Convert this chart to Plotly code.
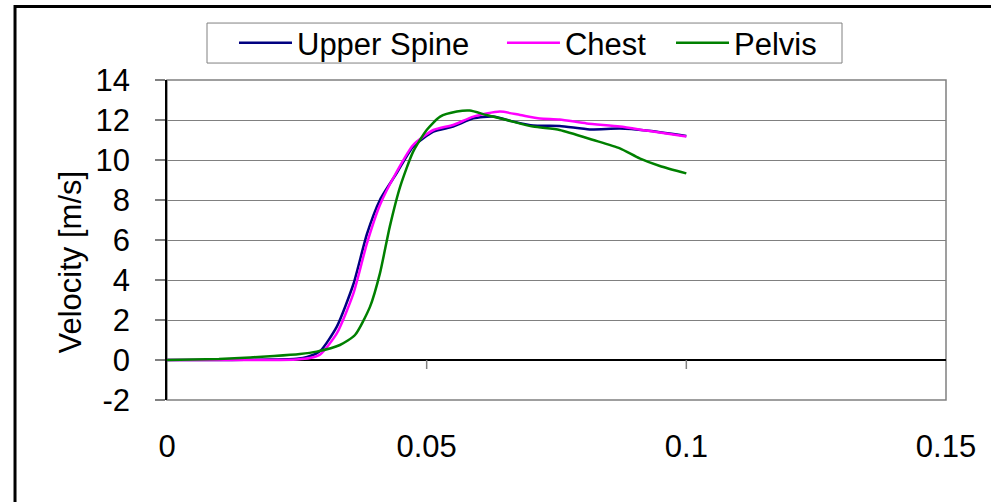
import plotly.graph_objects as go

# ---- data ----
t_spine = [0.0, 0.005, 0.01, 0.015, 0.02, 0.025, 0.027, 0.0295, 0.0327, 0.0359, 0.0385, 0.041,
           0.0442, 0.0474, 0.0513, 0.0551, 0.059, 0.0628, 0.0667, 0.0705, 0.0756, 0.0814,
           0.0872, 0.0923, 0.1]
v_spine = [0.0, 0.0, 0.0, 0.01, 0.02, 0.06, 0.15, 0.45, 1.67, 3.8, 6.3, 8.0,
           9.33, 10.67, 11.42, 11.67, 12.08, 12.17, 11.92, 11.72, 11.7, 11.53,
           11.57, 11.47, 11.2]

t_chest = [0.0, 0.005, 0.01, 0.015, 0.02, 0.025, 0.0275, 0.0295, 0.0327, 0.0359, 0.0385, 0.041,
           0.0442, 0.0474, 0.0513, 0.0551, 0.059, 0.0641, 0.068, 0.0718, 0.0756, 0.0808,
           0.0872, 0.0923, 0.1]
v_chest = [0.0, 0.0, 0.0, 0.0, 0.0, 0.03, 0.1, 0.28, 1.33, 3.33, 5.83, 7.75,
           9.4, 10.75, 11.5, 11.75, 12.17, 12.42, 12.25, 12.08, 12.03, 11.83,
           11.67, 11.47, 11.17]

t_pelvis = [0.0, 0.005, 0.01, 0.016, 0.0206, 0.0256, 0.0288, 0.0333, 0.0362, 0.0391, 0.041,
            0.0429, 0.0449, 0.0474, 0.05, 0.0526, 0.0558, 0.0583, 0.0615, 0.0654, 0.0705,
            0.0756, 0.0821, 0.0872, 0.091, 0.0949, 0.1]
v_pelvis = [0.0, 0.02, 0.05, 0.13, 0.2, 0.3, 0.42, 0.75, 1.25, 2.67, 4.33,
            6.67, 8.67, 10.42, 11.5, 12.17, 12.42, 12.47, 12.25, 12.0, 11.67,
            11.5, 11.0, 10.58, 10.08, 9.7, 9.33]

series_names = ["Upper Spine", "Chest", "Pelvis"]
series_colors = ["#000080", "#FF00FF", "#008000"]

x_ticks = [0, 0.05, 0.1, 0.15]
x_tick_labels = ["0", "0.05", "0.1", "0.15"]
y_ticks = [-2, 0, 2, 4, 6, 8, 10, 12, 14]
y_tick_labels = ["-2", "0", "2", "4", "6", "8", "10", "12", "14"]
y_title = "Velocity [m/s]"

FONT = "Liberation Sans, Arial, sans-serif"
FS = 31

# legend placements (paper x of each legend entry)
legend_ids = ["legend", "legend2", "legend3"]
legend_x = [0.0860, 0.4300, 0.6470]

fig = go.Figure()
for (tx, vy), name, col, lid in zip([(t_spine, v_spine), (t_chest, v_chest), (t_pelvis, v_pelvis)],
                                    series_names, series_colors, legend_ids):
    fig.add_trace(go.Scatter(x=tx, y=vy, mode="lines", name=name, legend=lid,
                             line=dict(color=col, width=2.5, shape="spline", smoothing=0.6)))

shapes = []
# plot area border (gray)
shapes.append(dict(type="rect", xref="paper", yref="paper", x0=0, y0=0, x1=1, y1=1,
                   line=dict(color="#808080", width=1.5), layer="below"))
# outer chart frame
shapes.append(dict(type="rect", xref="paper", yref="paper", x0=-0.1951, y0=-0.6, x1=1.2, y1=1.2297,
                   line=dict(color="black", width=3), layer="below"))
# legend box
shapes.append(dict(type="rect", xref="paper", yref="paper", x0=0.05135, x1=0.8665, y0=1.053, y1=1.178,
                   line=dict(color="#808080", width=1), fillcolor="white", layer="below"))
# x tick marks on the zero line
for tv in x_ticks[1:-1]:
    shapes.append(dict(type="line", xref="x", yref="y", x0=tv, x1=tv, y0=0, y1=-0.45,
                       line=dict(color="#808080", width=1.5)))

legend_common = dict(orientation="h", y=1.1156, xanchor="left", yanchor="middle",
                     bgcolor="rgba(0,0,0,0)", borderwidth=0,
                     font=dict(family=FONT, size=FS), itemwidth=53)

fig.update_layout(
    width=991, height=502,
    margin=dict(l=167, r=45, t=80, b=102),
    paper_bgcolor="white", plot_bgcolor="white",
    font=dict(family=FONT, size=FS, color="black"),
    shapes=shapes,
    showlegend=True,
    legend=dict(x=legend_x[0], **legend_common),
    legend2=dict(x=legend_x[1], **legend_common),
    legend3=dict(x=legend_x[2], **legend_common),
    annotations=[dict(text=y_title, xref="paper", yref="paper", x=-0.124, y=0.431,
                      xanchor="center", yanchor="middle", textangle=-90, showarrow=False,
                      font=dict(family=FONT, size=FS))],
    xaxis=dict(range=[0, 0.15], tickvals=x_ticks, ticktext=x_tick_labels,
               showgrid=False, zeroline=False, showline=False, ticks="",
               ticklabelstandoff=25, fixedrange=True),
    yaxis=dict(range=[-2, 14], tickvals=y_ticks, ticktext=y_tick_labels,
               showgrid=True, gridcolor="#808080", gridwidth=1,
               zeroline=True, zerolinecolor="black", zerolinewidth=1.5,
               showline=True, linecolor="black", linewidth=1.5,
               ticks="outside", ticklen=10, tickcolor="#808080", tickwidth=1.5,
               ticklabelstandoff=19),
)

fig.write_html("out.html")
